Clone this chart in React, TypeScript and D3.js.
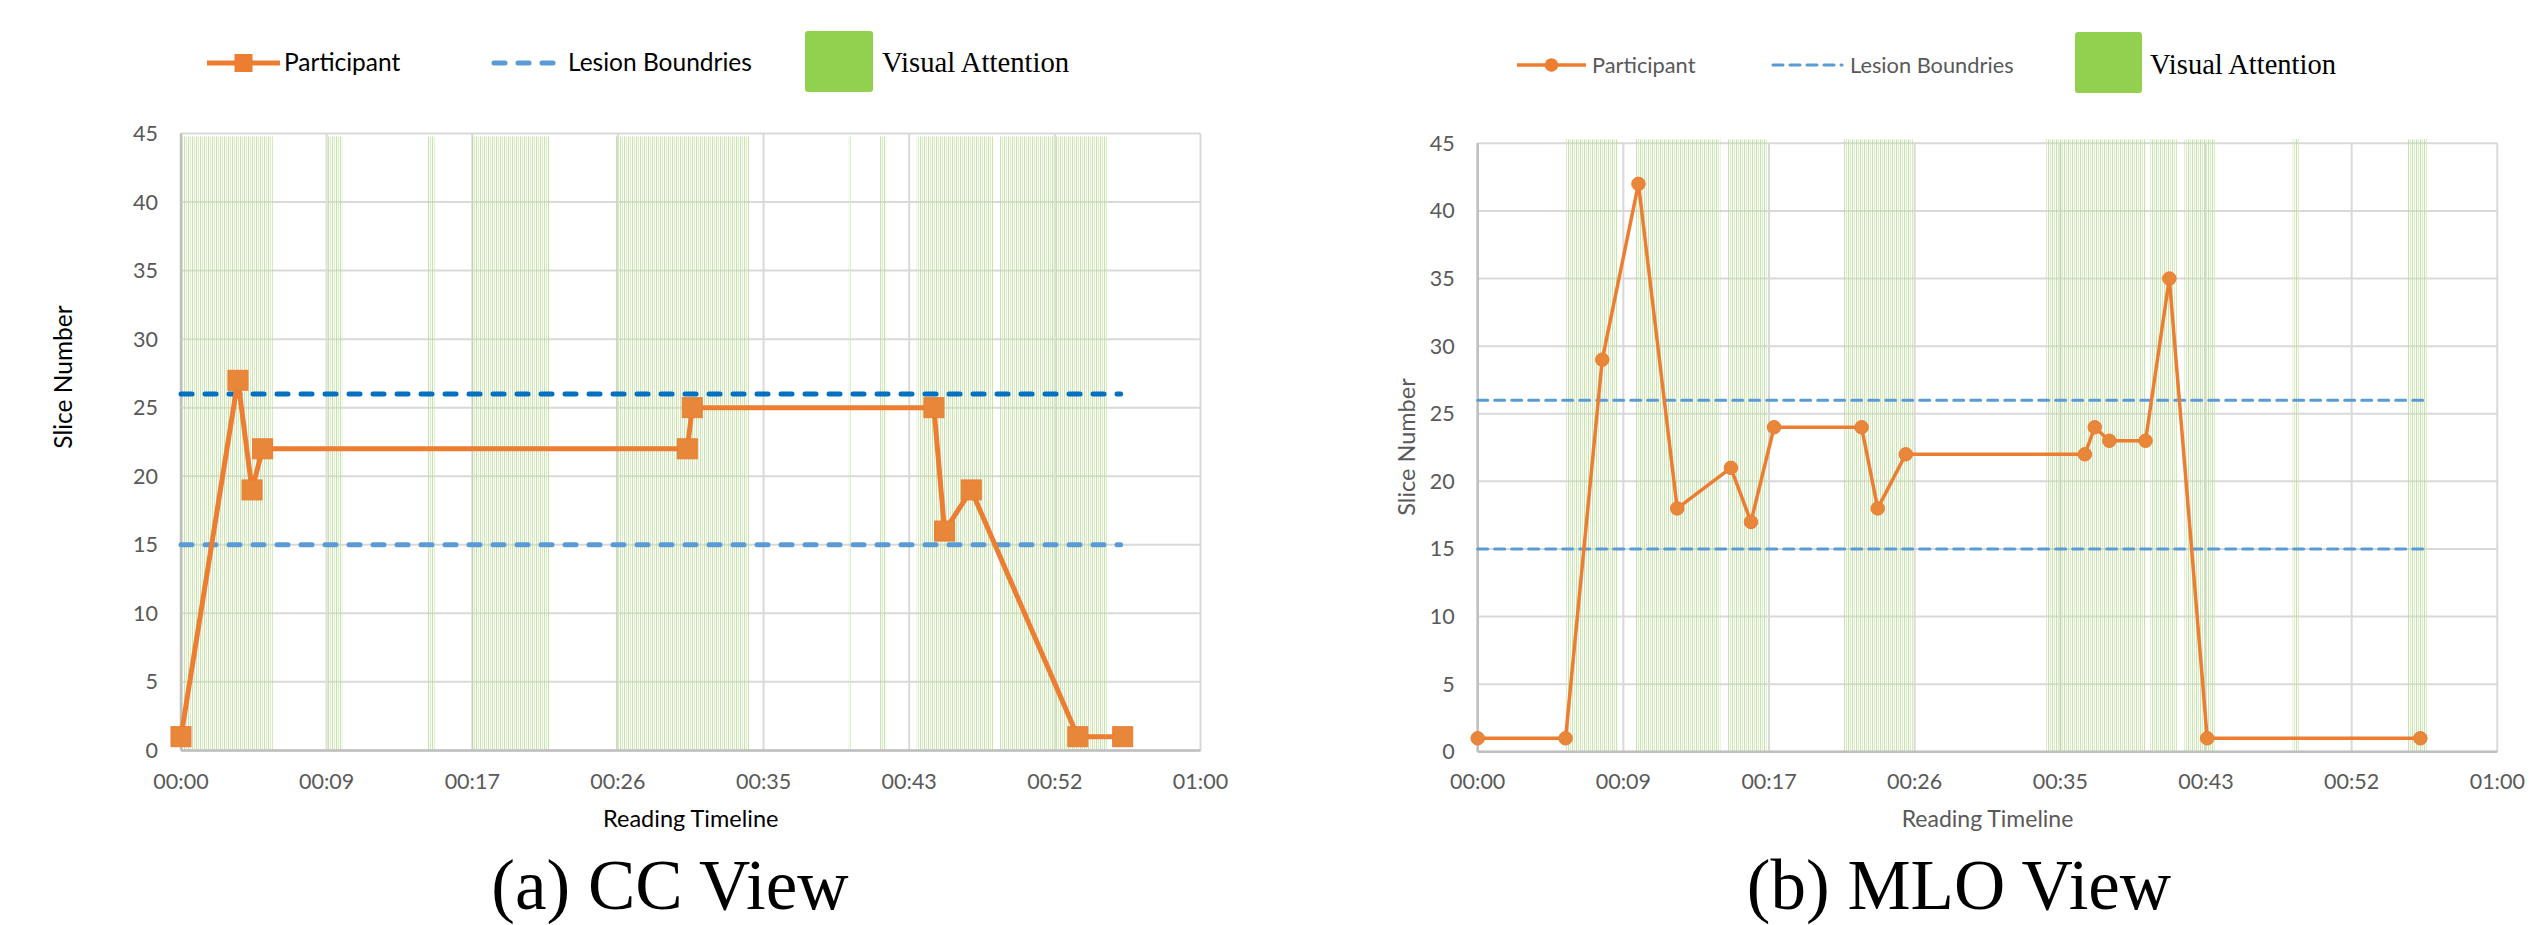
import React from "react";
import * as d3 from "d3";

// ---------- DATA ----------
const xTickLabels = ["00:00", "00:09", "00:17", "00:26", "00:35", "00:43", "00:52", "01:00"];
const yTicks = [0, 5, 10, 15, 20, 25, 30, 35, 40, 45];

// CC view (seconds, slice number)
const ccTime = [0, 3.35, 4.18, 4.8, 29.8, 30.09, 44.31, 44.94, 46.51, 52.78, 55.42];
const ccSlice = [1, 27, 19, 22, 22, 25, 25, 16, 19, 1, 1];
const ccLesion = [26, 15];
const ccLesionEnd = 55.3;
const ccAttention: [number, number][] = [
  [0.04, 5.4], [8.55, 9.5], [14.52, 14.93], [17.12, 21.66], [25.6, 33.44],
  [39.3, 39.47], [41.1, 41.5], [43.3, 47.8], [48.2, 54.5],
];

// MLO view
const mloTime = [0, 5.17, 7.33, 9.46, 11.74, 14.9, 16.08, 17.44, 22.59, 23.54, 25.19, 35.73, 36.31, 37.17, 39.3, 40.7, 42.93, 55.47];
const mloSlice = [1, 1, 29, 42, 18, 21, 17, 24, 24, 18, 22, 22, 24, 23, 23, 35, 1, 1];
const mloLesion = [26, 15];
const mloLesionEnd = 55.9;
const mloAttention: [number, number][] = [
  [5.17, 8.23], [9.27, 14.28], [14.71, 17.01], [21.56, 25.6], [33.44, 39.3],
  [39.56, 41.14], [41.59, 43.39], [47.96, 48.36], [54.73, 55.86],
];

const legendLabels = ["Participant", "Lesion Boundries", "Visual Attention"];
const axisTitles = { x: "Reading Timeline", y: "Slice Number" };
const captions = ["(a) CC View", "(b) MLO View"];

// ---------- STYLE ----------
const ORANGE = "#ED7D31";
const MARKER = "#E8863A";
const SANS = "Lato, 'Open Sans', sans-serif";
const SERIF = "'Liberation Serif', 'DejaVu Serif', serif";

type ChartCfg = {
  id: string;
  x0: number; x1: number; yTop: number; yBottom: number;
  time: number[]; slice: number[];
  lesion: number[]; lesionEnd: number; lesionColors: string[];
  lesionWidth: number; lesionDash: string;
  attention: [number, number][];
  bandTopOffset: number;
  lineWidth: number;
  marker: "square" | "circle"; markerSize: number;
  textColor: string;
  yTitleCenter: number; yTitleX: number; yTitleSize: number; xTitleSize: number;
  caption: string; captionX: number;
  legend: {
    y: number;
    pLine: [number, number]; pText: number;
    lLine: [number, number]; lText: number;
    rect: [number, number, number, number]; vText: number;
    fontSize: number; lesionColor: string; serifSize: number;
  };
};

function Chart({ c }: { c: ChartCfg }) {
  const x = d3.scaleLinear().domain([0, 60]).range([c.x0, c.x1]);
  const y = d3.scaleLinear().domain([0, 45]).range([c.yBottom, c.yTop]);
  const xTickVals = xTickLabels.map((_, i) => (i * 60) / 7);
  const pts: [number, number][] = c.time.map((t, i) => [t, c.slice[i]]);
  const line = d3.line<[number, number]>().x((d) => x(d[0])).y((d) => y(d[1]));
  const L = c.legend;
  return (
    <g>
      <defs>
        <pattern id={`stripes-${c.id}`} patternUnits="userSpaceOnUse" width={4} height={10}>
          <rect x={0} y={0} width={1.1} height={10} fill="#B5DB90" opacity={0.75} />
          <rect x={2} y={0} width={1} height={10} fill="#D6ECC0" opacity={0.9} />
        </pattern>
      </defs>
      {/* gridlines */}
      {yTicks.map((t) => (
        <line key={`hy${t}`} x1={c.x0} x2={c.x1} y1={y(t)} y2={y(t)} stroke="#D9D9D9" strokeWidth={2} />
      ))}
      {xTickVals.map((t, i) => (
        <line key={`vx${i}`} x1={x(t)} x2={x(t)} y1={c.yTop} y2={c.yBottom} stroke="#D9D9D9" strokeWidth={2} />
      ))}
      {/* attention bands */}
      {c.attention.map(([a, b], i) => (
        <rect key={`b${i}`} x={x(a)} y={c.yTop + c.bandTopOffset} width={x(b) - x(a)}
          height={c.yBottom - c.yTop - c.bandTopOffset} fill={`url(#stripes-${c.id})`} />
      ))}
      {/* axes */}
      <line x1={c.x0} x2={c.x1} y1={c.yBottom} y2={c.yBottom} stroke="#BFBFBF" strokeWidth={2.5} />
      <line x1={c.x0} x2={c.x0} y1={c.yTop} y2={c.yBottom} stroke="#BFBFBF" strokeWidth={2.5} />
      {/* lesion boundaries */}
      {c.lesion.map((v, i) => (
        <line key={`l${i}`} x1={x(0)} x2={x(c.lesionEnd)} y1={y(v)} y2={y(v)}
          stroke={c.lesionColors[i]} strokeWidth={c.lesionWidth} strokeDasharray={c.lesionDash} strokeLinecap="round" />
      ))}
      {/* participant */}
      <path d={line(pts) || ""} fill="none" stroke={ORANGE} strokeWidth={c.lineWidth} strokeLinejoin="round" />
      {pts.map((p, i) =>
        c.marker === "square" ? (
          <rect key={`m${i}`} x={x(p[0]) - c.markerSize / 2} y={y(p[1]) - c.markerSize / 2}
            width={c.markerSize} height={c.markerSize} fill={MARKER} stroke={ORANGE} strokeWidth={1} />
        ) : (
          <circle key={`m${i}`} cx={x(p[0])} cy={y(p[1])} r={c.markerSize / 2} fill={MARKER} stroke={ORANGE} strokeWidth={1} />
        )
      )}
      {/* tick labels */}
      {yTicks.map((t) => (
        <text key={`ty${t}`} x={c.x0 - 23} y={y(t)} dy="0.35em" textAnchor="end" fontFamily={SANS} fontSize={21.5} fill="#595959">{t}</text>
      ))}
      {xTickVals.map((t, i) => (
        <text key={`tx${i}`} x={x(t)} y={789} textAnchor="middle" fontFamily={SANS} fontSize={21.5} fill="#595959">{xTickLabels[i]}</text>
      ))}
      {/* axis titles */}
      <text x={(c.x0 + c.x1) / 2} y={827} textAnchor="middle" fontFamily={SANS} fontSize={c.xTitleSize} fill={c.textColor}>{axisTitles.x}</text>
      <text transform={`translate(${c.yTitleX},${c.yTitleCenter}) rotate(-90)`} textAnchor="middle" dy="0.35em"
        fontFamily={SANS} fontSize={c.yTitleSize} fill={c.textColor}>{axisTitles.y}</text>
      {/* caption */}
      <text x={c.captionX} y={909} textAnchor="middle" fontFamily={SERIF} fontSize={71} fill="#000">{c.caption}</text>
      {/* legend */}
      <line x1={L.pLine[0]} x2={L.pLine[1]} y1={L.y} y2={L.y} stroke={ORANGE} strokeWidth={c.lineWidth} />
      {c.marker === "square" ? (
        <rect x={(L.pLine[0] + L.pLine[1]) / 2 - c.markerSize * 0.45} y={L.y - c.markerSize * 0.45}
          width={c.markerSize * 0.9} height={c.markerSize * 0.9} fill={ORANGE} />
      ) : (
        <circle cx={(L.pLine[0] + L.pLine[1]) / 2} cy={L.y} r={c.markerSize / 2} fill={ORANGE} />
      )}
      <text x={L.pText} y={L.y + 8} fontFamily={SANS} fontSize={L.fontSize} fill={c.textColor}>{legendLabels[0]}</text>
      <line x1={L.lLine[0]} x2={L.lLine[1]} y1={L.y} y2={L.y} stroke={L.lesionColor} strokeWidth={c.lesionWidth}
        strokeDasharray={c.lesionDash} strokeLinecap="round" />
      <text x={L.lText} y={L.y + 8} fontFamily={SANS} fontSize={L.fontSize} fill={c.textColor}>{legendLabels[1]}</text>
      <rect x={L.rect[0]} y={L.rect[1]} width={L.rect[2]} height={L.rect[3]} rx={3} fill="#92D050" />
      <text x={L.vText} y={L.y + 9} fontFamily={SERIF} fontSize={L.serifSize} fill="#000">{legendLabels[2]}</text>
    </g>
  );
}

const ccCfg: ChartCfg = {
  id: "cc", x0: 181, x1: 1200.5, yTop: 133.5, yBottom: 750.4,
  time: ccTime, slice: ccSlice, lesion: ccLesion, lesionEnd: ccLesionEnd,
  lesionColors: ["#0070C0", "#5B9BD5"], lesionWidth: 5, lesionDash: "11 13",
  attention: ccAttention, bandTopOffset: 3, lineWidth: 5,
  marker: "square", markerSize: 20, textColor: "#000",
  yTitleCenter: 377, yTitleX: 63, yTitleSize: 24.5, xTitleSize: 23.5,
  caption: captions[0], captionX: 670,
  legend: {
    y: 63, pLine: [207, 280], pText: 284, lLine: [494, 554], lText: 568,
    rect: [805, 31, 68, 61], vText: 882, fontSize: 24.5, lesionColor: "#5B9BD5", serifSize: 28.7,
  },
};

const mloCfg: ChartCfg = {
  id: "mlo", x0: 1477.7, x1: 2497.3, yTop: 143.3, yBottom: 751.8,
  time: mloTime, slice: mloSlice, lesion: mloLesion, lesionEnd: mloLesionEnd,
  lesionColors: ["#5B9BD5", "#5B9BD5"], lesionWidth: 3, lesionDash: "10 7",
  attention: mloAttention, bandTopOffset: -4, lineWidth: 3.5,
  marker: "circle", markerSize: 13.5, textColor: "#595959",
  yTitleCenter: 447, yTitleX: 1407, yTitleSize: 23.5, xTitleSize: 23,
  caption: captions[1], captionX: 1959,
  legend: {
    y: 65, pLine: [1517, 1586], pText: 1592, lLine: [1773, 1842], lText: 1850,
    rect: [2075, 32, 67, 61], vText: 2150, fontSize: 21.8, lesionColor: "#5B9BD5", serifSize: 28.5,
  },
};

export default function App() {
  return (
    <svg width={2544} height={925} style={{ position: "absolute", left: 0, top: 0, background: "#fff" }}>
      <rect x={0} y={0} width={2544} height={925} fill="#fff" />
      <Chart c={ccCfg} />
      <Chart c={mloCfg} />
    </svg>
  );
}
